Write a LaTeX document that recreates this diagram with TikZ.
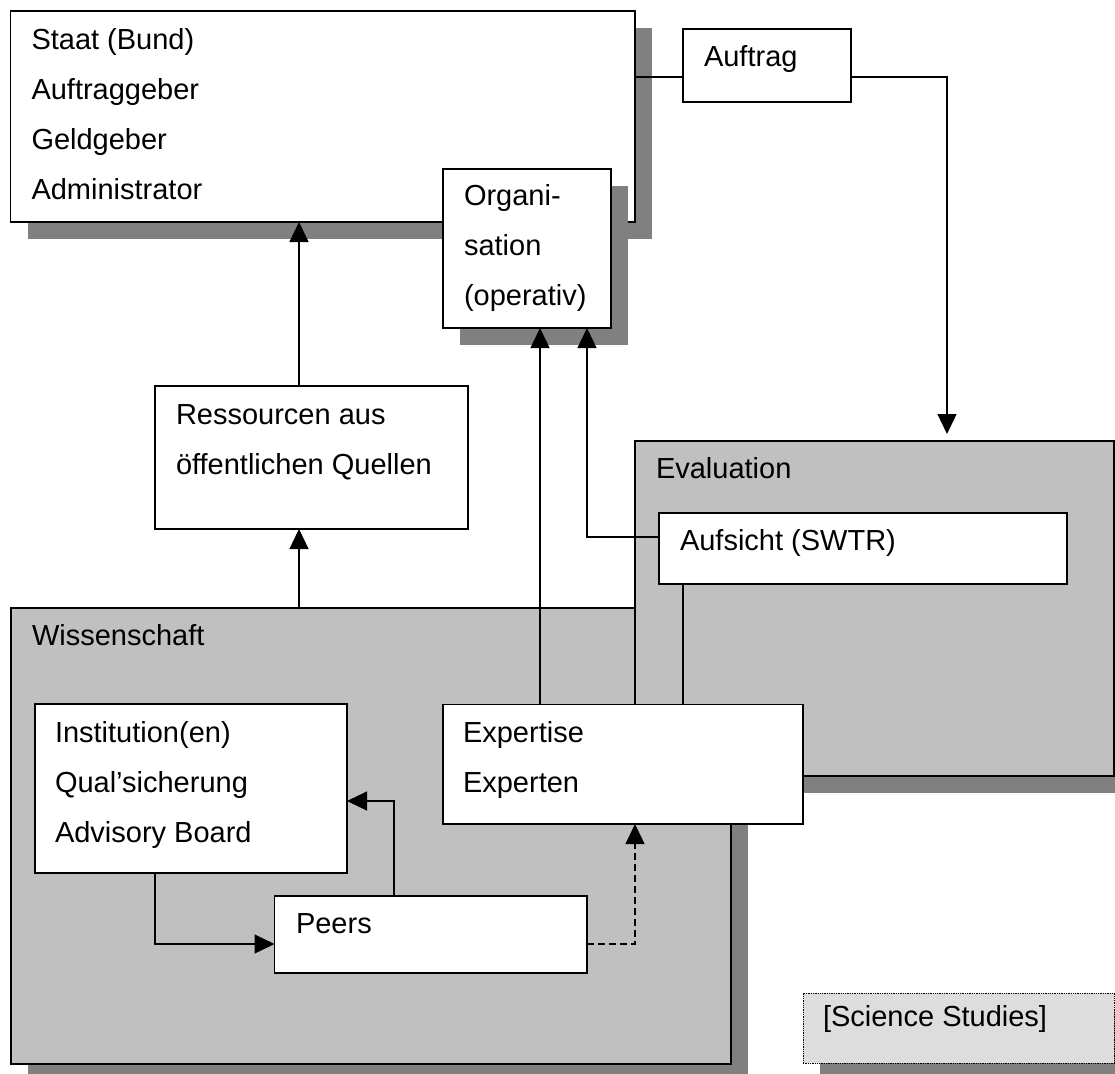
\documentclass[tikz,border=0pt]{standalone}
\usepackage{fontspec}
\setmainfont{Liberation Sans}
\usetikzlibrary{arrows.meta,shadows}
\definecolor{grpgray}{HTML}{C0C0C0}
\definecolor{shadowgray}{HTML}{808080}
\definecolor{ssgray}{HTML}{DDDDDD}
\begin{document}
\begin{tikzpicture}[x=1pt,y=-1pt,
  box/.style={draw, line width=1.3pt, fill=white, inner sep=0pt, outer sep=0pt, anchor=north west},
  grp/.style={box, fill=grpgray},
  shad/.style={drop shadow={shadow xshift=17pt, shadow yshift=-17pt, opacity=1, fill=shadowgray}},
  txt/.style={font=\fontsize{29}{50}\selectfont, align=left, inner sep=0pt, outer sep=0pt, anchor=north west},
  con/.style={line width=1.3pt},
  arr/.style={con, -{Triangle[length=20pt,width=19pt]}}]
\clip (0,0) rectangle (1115,1073);
\fill[white] (0,0) rectangle (1115,1073);

% Staat
\node[box, shad, minimum width=624.5pt, minimum height=211pt] (staat) at (10.5,11) {};
\node[txt] (staatt) at ([shift={(21pt,-3pt)}]staat.north west)
  {\strut Staat (Bund)\\\strut Auftraggeber\\\strut Geldgeber\\\strut Administrator};

% Auftrag
\node[box, minimum width=168pt, minimum height=73pt] (auftrag) at (683,29) {};
\node[txt] (auftragt) at ([shift={(21pt,-3pt)}]auftrag.north west) {\strut Auftrag};

% Organisation
\node[box, shad, minimum width=168pt, minimum height=159pt] (org) at (443,169) {};
\node[txt] (orgt) at ([shift={(21pt,-1pt)}]org.north west)
  {\strut Organi-\\\strut sation\\\strut (operativ)};

% Ressourcen
\node[box, minimum width=313pt, minimum height=143pt] (res) at (155,386) {};
\node[txt] (rest) at ([shift={(21pt,-3pt)}]res.north west)
  {\strut Ressourcen aus\\\strut öffentlichen Quellen};

% Wissenschaft
\node[grp, shad, minimum width=720pt, minimum height=456pt] (wiss) at (11,608) {};
\node[txt] (wisst) at ([shift={(21pt,-2pt)}]wiss.north west) {\strut Wissenschaft};

% Evaluation
\node[grp, shad, minimum width=479pt, minimum height=335pt] (eval) at (635,441) {};
\node[txt] (evalt) at ([shift={(21pt,-2pt)}]eval.north west) {\strut Evaluation};

% Aufsicht
\node[box, minimum width=408pt, minimum height=71pt] (aufs) at (659,513) {};
\node[txt] (aufst) at ([shift={(21pt,-2pt)}]aufs.north west) {\strut Aufsicht (SWTR)};

% Institution
\node[box, minimum width=312pt, minimum height=169pt] (inst) at (35,704) {};
\node[txt] (instt) at ([shift={(20pt,-3pt)}]inst.north west)
  {\strut Institution(en)\\\strut Qual’sicherung\\\strut Advisory Board};

% Expertise
\node[box, minimum width=360pt, minimum height=119.5pt] (expe) at (443,704.5) {};
\node[txt] (expet) at ([shift={(20pt,-3pt)}]expe.north west)
  {\strut Expertise\\\strut Experten};

% Peers
\node[box, minimum width=312.5pt, minimum height=77pt] (peers) at (274.5,896) {};
\node[txt] (peerst) at ([shift={(21.5pt,-2pt)}]peers.north west) {\strut Peers};

% Science Studies
\node[box, shad, fill=ssgray, densely dotted, line width=1pt, minimum width=311pt, minimum height=70pt] (ss) at (803,993) {};
\node[txt] (sst) at ([shift={(20pt,2pt)}]ss.north west) {\strut [Science Studies]};

% connectors
\coordinate (a1) at ([yshift=-11.5pt]auftrag.west);
\coordinate (a2) at ([yshift=-11.5pt]auftrag.east);
\coordinate (e1) at ([xshift=72.5pt,yshift=7pt]eval.north);
\draw[con] (a1) -- (a1 -| staat.east);
\draw[arr] (a2) -| (e1);

\coordinate (r1) at ([xshift=-12.5pt]res.north);
\coordinate (r2) at ([xshift=-12.5pt]res.south);
\draw[arr] (r1) -- (r1 |- staat.south);
\draw[arr] (r2 |- wiss.north) -- (r2);

\coordinate (s1) at ([yshift=11.5pt]aufs.west);
\coordinate (o1) at ([xshift=13pt]org.south);
\coordinate (o2) at ([xshift=60pt]org.south);
\draw[arr] (s1) -| (o2);
\draw[arr] (o1 |- expe.north) -- (o1);
\coordinate (s2) at ([xshift=24pt]aufs.south west);
\draw[con] (s2) -- (s2 |- expe.north);

\coordinate (p1) at ([yshift=-9.5pt]peers.west);
\coordinate (p2) at ([yshift=-9.5pt]peers.east);
\coordinate (i1) at ([yshift=-12.5pt]inst.east);
\coordinate (i2) at ([xshift=120pt]inst.south west);
\coordinate (p3) at ([xshift=119.5pt]peers.north west);
\coordinate (x2) at ([xshift=192pt]expe.south west);
\draw[arr] (i2) |- (p1);
\draw[arr] (p3) |- (i1);
\draw[arr, dash pattern=on 7pt off 4pt] (p2) -| (x2);
\end{tikzpicture}
\end{document}
